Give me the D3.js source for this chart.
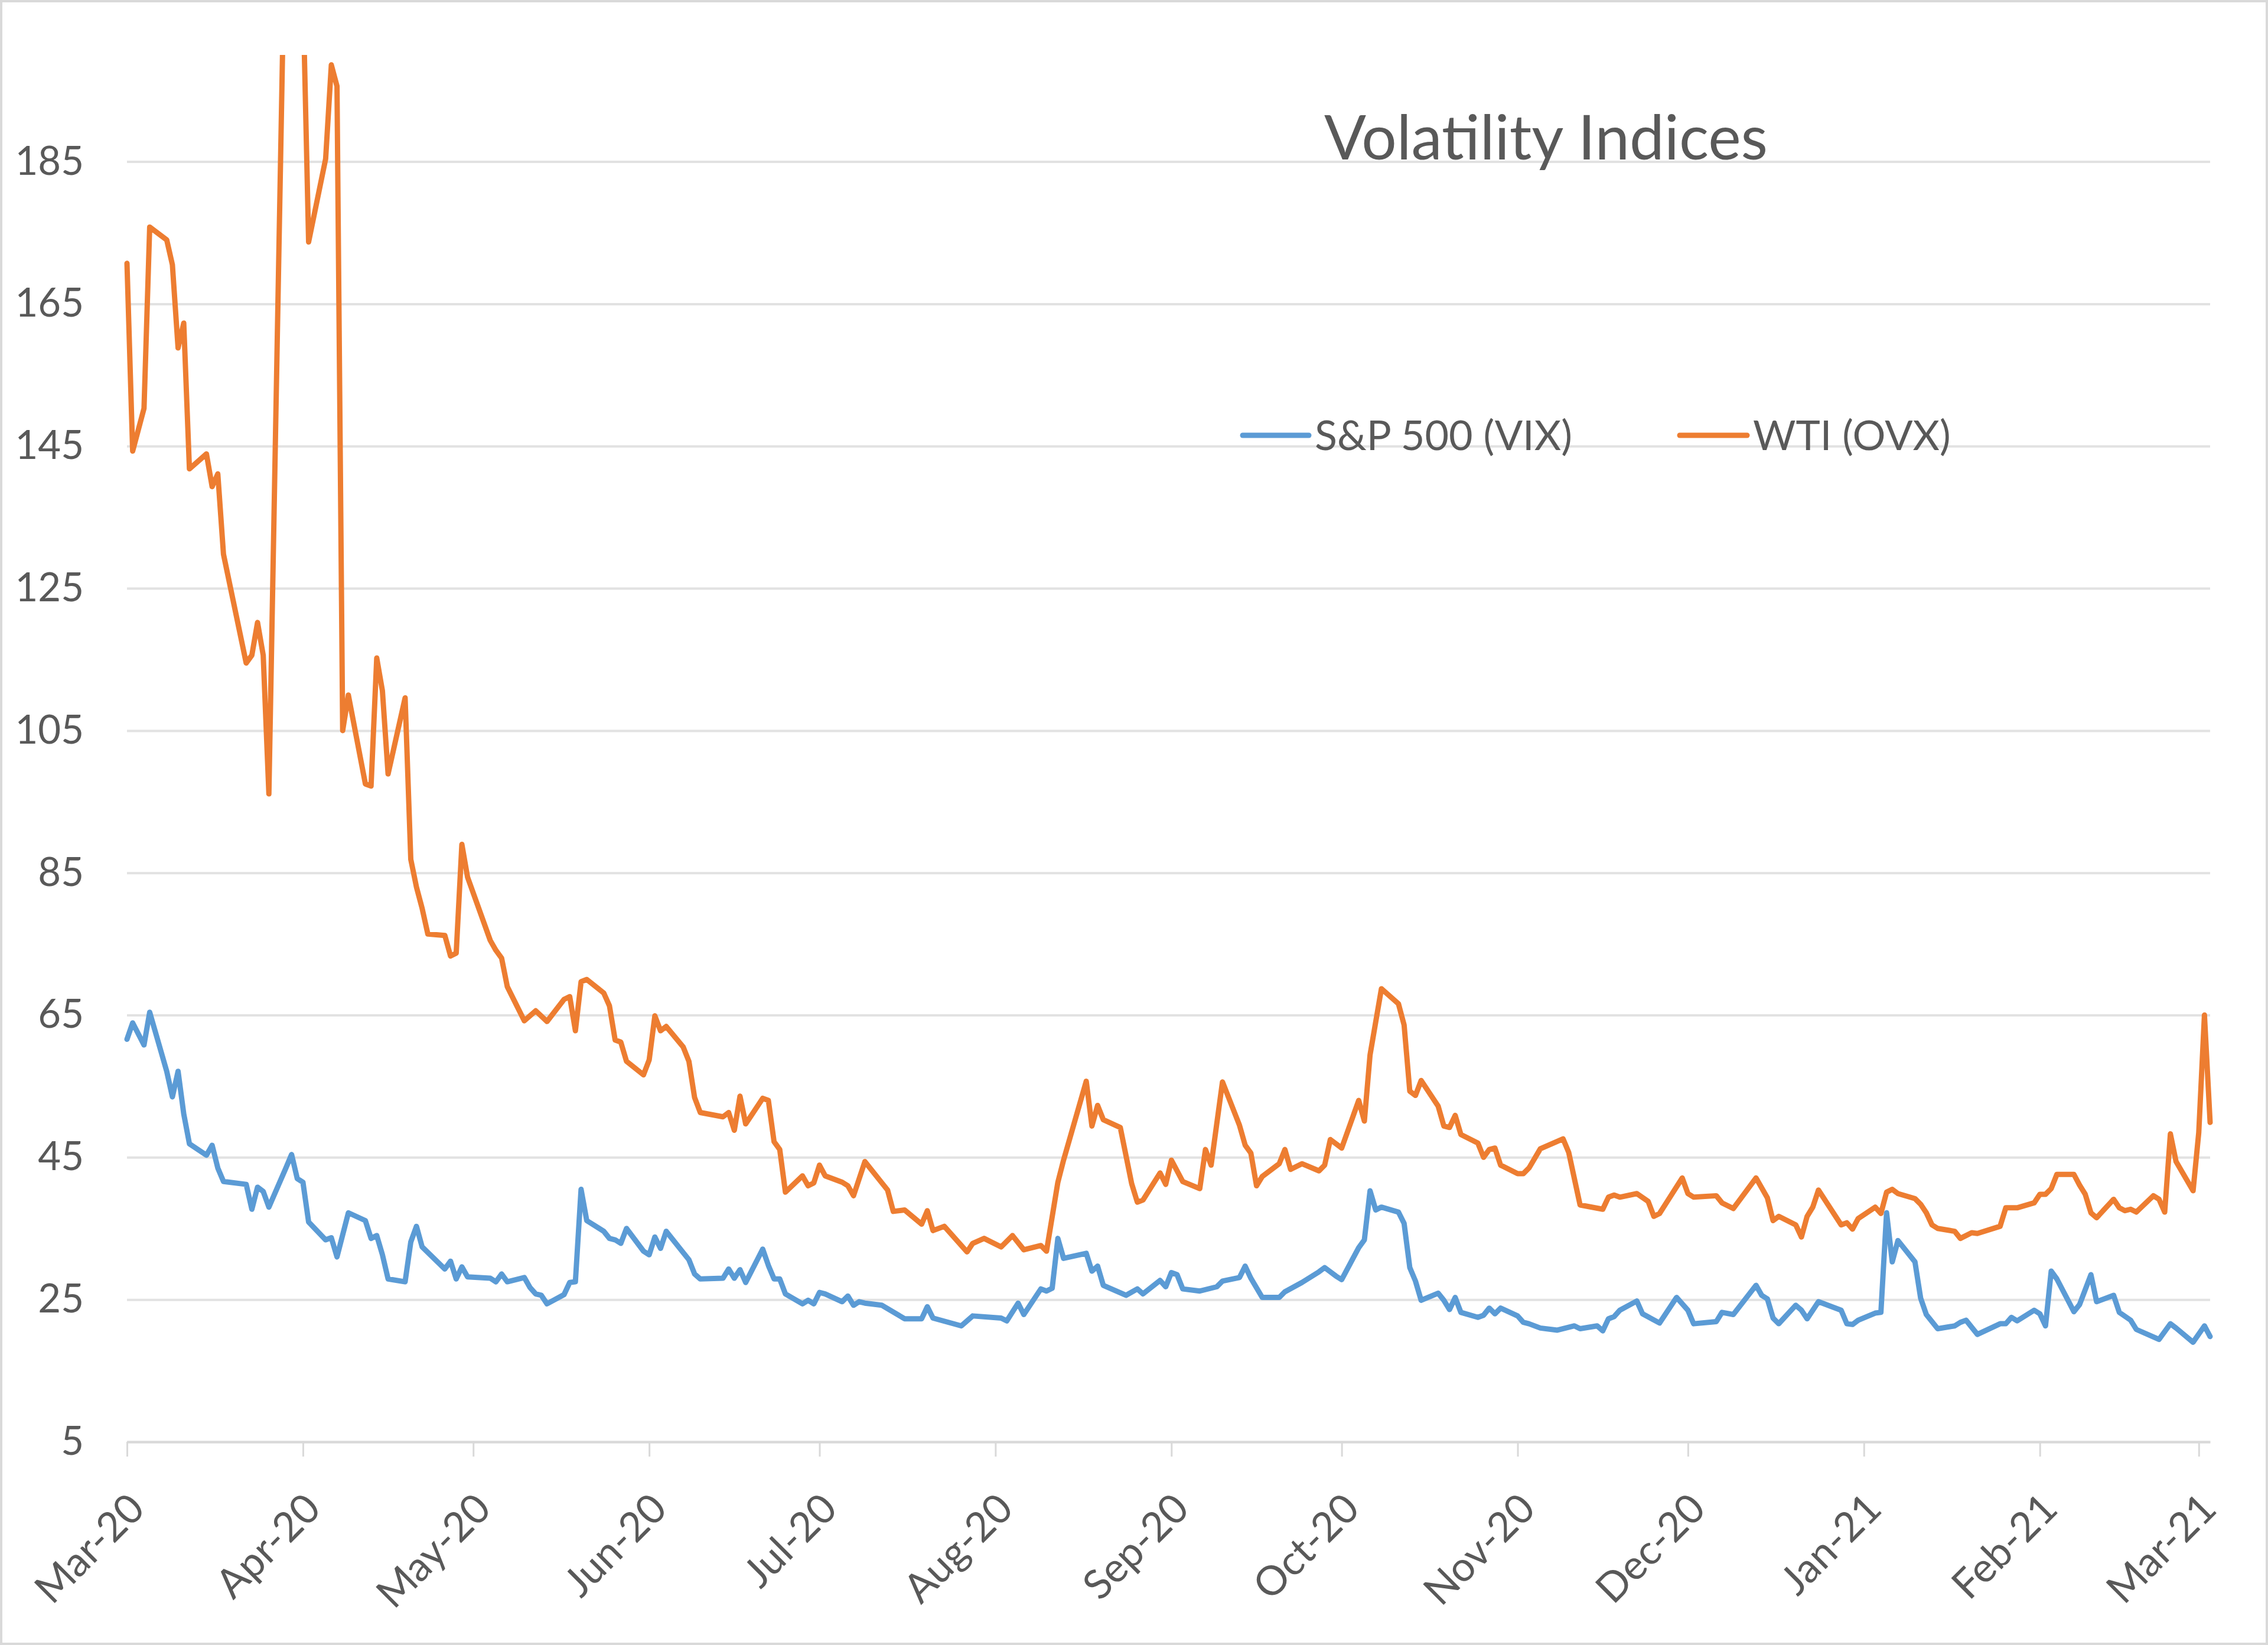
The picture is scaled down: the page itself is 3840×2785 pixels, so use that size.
<!DOCTYPE html>
<html><head><meta charset="utf-8">
<script src="https://cdn.jsdelivr.net/npm/d3@7"></script>
<style>html,body{margin:0;padding:0;background:#fff;} svg{display:block;}</style>
</head><body>
<svg id="chart" width="3840" height="2785"></svg>
<script>
// ---- DATA ----
const vixDates = ["2020-03-01","2020-03-02","2020-03-04","2020-03-05","2020-03-08","2020-03-09","2020-03-10","2020-03-11","2020-03-12","2020-03-15","2020-03-16","2020-03-17","2020-03-18","2020-03-22","2020-03-23","2020-03-24","2020-03-25","2020-03-26","2020-03-29","2020-03-30","2020-03-31","2020-04-01","2020-04-02","2020-04-05","2020-04-06","2020-04-07","2020-04-09","2020-04-12","2020-04-13","2020-04-14","2020-04-15","2020-04-16","2020-04-19","2020-04-20","2020-04-21","2020-04-22","2020-04-26","2020-04-27","2020-04-28","2020-04-29","2020-04-30","2020-05-04","2020-05-05","2020-05-06","2020-05-07","2020-05-10","2020-05-11","2020-05-12","2020-05-13","2020-05-14","2020-05-17","2020-05-18","2020-05-19","2020-05-20","2020-05-21","2020-05-24","2020-05-25","2020-05-26","2020-05-27","2020-05-28","2020-05-31","2020-06-01","2020-06-02","2020-06-03","2020-06-04","2020-06-07","2020-06-08","2020-06-09","2020-06-10","2020-06-14","2020-06-15","2020-06-16","2020-06-17","2020-06-18","2020-06-21","2020-06-22","2020-06-23","2020-06-24","2020-06-25","2020-06-28","2020-06-29","2020-06-30","2020-07-01","2020-07-02","2020-07-05","2020-07-06","2020-07-07","2020-07-08","2020-07-09","2020-07-12","2020-07-16","2020-07-19","2020-07-20","2020-07-21","2020-07-26","2020-07-28","2020-08-02","2020-08-03","2020-08-05","2020-08-06","2020-08-09","2020-08-10","2020-08-11","2020-08-12","2020-08-13","2020-08-17","2020-08-18","2020-08-19","2020-08-20","2020-08-24","2020-08-26","2020-08-27","2020-08-30","2020-08-31","2020-09-01","2020-09-02","2020-09-03","2020-09-06","2020-09-09","2020-09-10","2020-09-13","2020-09-14","2020-09-15","2020-09-17","2020-09-20","2020-09-21","2020-09-24","2020-09-27","2020-09-28","2020-09-30","2020-10-01","2020-10-04","2020-10-05","2020-10-06","2020-10-07","2020-10-08","2020-10-11","2020-10-12","2020-10-13","2020-10-14","2020-10-15","2020-10-18","2020-10-19","2020-10-20","2020-10-21","2020-10-22","2020-10-25","2020-10-26","2020-10-27","2020-10-28","2020-10-29","2020-11-01","2020-11-02","2020-11-03","2020-11-05","2020-11-08","2020-11-11","2020-11-12","2020-11-15","2020-11-16","2020-11-17","2020-11-18","2020-11-19","2020-11-22","2020-11-23","2020-11-26","2020-11-29","2020-12-01","2020-12-02","2020-12-06","2020-12-07","2020-12-09","2020-12-13","2020-12-14","2020-12-15","2020-12-16","2020-12-17","2020-12-20","2020-12-21","2020-12-22","2020-12-24","2020-12-28","2020-12-29","2020-12-30","2020-12-31","2021-01-03","2021-01-04","2021-01-05","2021-01-06","2021-01-07","2021-01-10","2021-01-11","2021-01-12","2021-01-14","2021-01-17","2021-01-18","2021-01-19","2021-01-21","2021-01-25","2021-01-26","2021-01-27","2021-01-28","2021-01-31","2021-02-01","2021-02-02","2021-02-03","2021-02-04","2021-02-07","2021-02-08","2021-02-10","2021-02-11","2021-02-14","2021-02-15","2021-02-17","2021-02-18","2021-02-22","2021-02-24","2021-02-25","2021-02-28","2021-03-02","2021-03-03"];
const vixValues = [61.6,63.9,60.8,65.4,57.1,53.5,57.1,51.1,46.9,45.3,46.7,43.5,41.6,41.2,37.7,40.8,40.2,38.0,43.5,45.4,42.0,41.5,35.9,33.4,33.7,31.0,37.2,36.1,33.6,34.0,31.3,27.9,27.5,33.1,35.3,32.4,29.3,30.4,27.9,29.6,28.2,28.0,27.5,28.6,27.5,28.1,26.7,25.8,25.6,24.4,25.7,27.4,27.5,40.5,36.1,34.6,33.6,33.4,32.9,35.0,31.8,31.3,33.8,32.2,34.6,31.6,30.6,28.6,27.9,28.0,29.3,28.0,29.2,27.4,32.1,29.8,27.9,27.9,25.8,24.4,24.9,24.4,26.0,25.8,24.7,25.5,24.2,24.7,24.5,24.2,22.3,22.3,24.0,22.4,21.3,22.7,22.4,22.0,24.5,22.9,26.5,26.2,26.6,33.6,30.8,31.5,29.0,29.7,27.0,25.6,26.5,25.8,27.7,26.8,28.8,28.5,26.5,26.2,26.8,27.6,28.1,29.7,28.0,25.3,25.3,26.1,27.4,28.9,29.5,28.3,27.8,32.3,33.4,40.3,37.6,38.0,37.3,35.7,29.5,27.6,24.9,25.9,24.9,23.6,25.3,23.2,22.5,22.8,23.8,23.0,23.8,22.7,21.8,21.6,21.0,20.7,21.3,20.9,21.3,20.6,22.3,22.6,23.5,24.8,23.0,21.7,25.3,23.5,21.6,21.9,23.2,22.9,27.0,25.6,25.1,22.4,21.6,24.2,23.5,22.3,24.7,23.5,21.6,21.5,22.1,23.1,23.2,37.2,30.3,33.3,30.3,25.2,22.9,20.9,21.3,21.8,22.1,20.1,21.6,21.6,22.5,22.0,23.5,23.0,21.3,29.0,27.9,23.3,24.3,28.5,24.7,25.6,23.2,22.1,20.8,19.4,21.6,21.0,19.0,21.3,19.8];

const ovxDates = ["2020-03-01","2020-03-02","2020-03-04","2020-03-05","2020-03-08","2020-03-09","2020-03-10","2020-03-11","2020-03-12","2020-03-15","2020-03-16","2020-03-17","2020-03-18","2020-03-22","2020-03-23","2020-03-24","2020-03-25","2020-03-26","2020-03-29","2020-03-30","2020-03-31","2020-04-01","2020-04-02","2020-04-05","2020-04-06","2020-04-07","2020-04-08","2020-04-09","2020-04-12","2020-04-13","2020-04-14","2020-04-15","2020-04-16","2020-04-19","2020-04-20","2020-04-21","2020-04-22","2020-04-23","2020-04-26","2020-04-27","2020-04-28","2020-04-29","2020-04-30","2020-05-04","2020-05-05","2020-05-06","2020-05-07","2020-05-10","2020-05-12","2020-05-14","2020-05-17","2020-05-18","2020-05-19","2020-05-20","2020-05-21","2020-05-24","2020-05-25","2020-05-26","2020-05-27","2020-05-28","2020-05-31","2020-06-01","2020-06-02","2020-06-03","2020-06-04","2020-06-07","2020-06-08","2020-06-09","2020-06-10","2020-06-14","2020-06-15","2020-06-16","2020-06-17","2020-06-18","2020-06-21","2020-06-22","2020-06-23","2020-06-24","2020-06-25","2020-06-28","2020-06-29","2020-06-30","2020-07-01","2020-07-02","2020-07-05","2020-07-06","2020-07-07","2020-07-09","2020-07-12","2020-07-13","2020-07-14","2020-07-16","2020-07-19","2020-07-20","2020-07-21","2020-07-23","2020-07-27","2020-07-28","2020-07-30","2020-08-02","2020-08-04","2020-08-06","2020-08-09","2020-08-10","2020-08-12","2020-08-13","2020-08-17","2020-08-18","2020-08-19","2020-08-20","2020-08-23","2020-08-25","2020-08-26","2020-08-27","2020-08-30","2020-08-31","2020-09-01","2020-09-03","2020-09-06","2020-09-07","2020-09-08","2020-09-10","2020-09-13","2020-09-14","2020-09-15","2020-09-16","2020-09-17","2020-09-20","2020-09-21","2020-09-22","2020-09-24","2020-09-27","2020-09-28","2020-09-29","2020-10-01","2020-10-04","2020-10-05","2020-10-06","2020-10-08","2020-10-11","2020-10-12","2020-10-13","2020-10-14","2020-10-15","2020-10-18","2020-10-19","2020-10-20","2020-10-21","2020-10-22","2020-10-25","2020-10-26","2020-10-27","2020-10-28","2020-10-29","2020-11-01","2020-11-02","2020-11-03","2020-11-05","2020-11-09","2020-11-10","2020-11-12","2020-11-16","2020-11-17","2020-11-18","2020-11-19","2020-11-22","2020-11-24","2020-11-25","2020-11-26","2020-11-30","2020-12-01","2020-12-02","2020-12-06","2020-12-07","2020-12-09","2020-12-13","2020-12-15","2020-12-16","2020-12-17","2020-12-20","2020-12-21","2020-12-22","2020-12-23","2020-12-24","2020-12-28","2020-12-29","2020-12-30","2020-12-31","2021-01-03","2021-01-04","2021-01-05","2021-01-06","2021-01-07","2021-01-10","2021-01-11","2021-01-12","2021-01-13","2021-01-14","2021-01-17","2021-01-18","2021-01-20","2021-01-21","2021-01-25","2021-01-26","2021-01-28","2021-01-31","2021-02-01","2021-02-02","2021-02-03","2021-02-04","2021-02-07","2021-02-08","2021-02-09","2021-02-10","2021-02-11","2021-02-14","2021-02-15","2021-02-16","2021-02-17","2021-02-18","2021-02-21","2021-02-22","2021-02-23","2021-02-24","2021-02-25","2021-02-28","2021-03-01","2021-03-02","2021-03-03"];
const ovxValues = [170.7,144.3,150.3,175.8,174.0,170.5,158.8,162.3,141.8,143.9,139.3,141.1,129.8,114.5,115.6,120.2,115.6,96.1,226,325,260,209,173.7,185.4,198.6,195.6,105.0,110.0,97.5,97.2,115.2,110.6,98.9,109.6,86.9,83.0,80.0,76.4,76.2,73.3,73.7,89.0,84.4,75.5,74.1,73.0,69.0,64.2,65.6,64.1,67.2,67.6,62.8,69.7,70.0,68.1,66.3,61.5,61.2,58.5,56.6,58.7,64.9,62.8,63.4,60.5,58.5,53.4,51.3,50.7,51.3,48.8,53.6,49.7,53.3,53.0,47.2,46.1,40.1,42.4,41.0,41.4,43.9,42.4,41.5,41.0,39.6,44.4,41.4,40.4,37.4,37.6,35.6,37.5,34.7,35.3,31.7,32.9,33.6,32.4,34.0,32.0,32.6,31.8,41.5,44.6,55.7,49.4,52.3,50.3,49.2,41.3,38.7,39.0,42.8,41.2,44.6,41.6,40.6,46.1,43.9,55.6,49.5,46.7,45.6,41.0,42.3,44.1,46.1,43.3,44.1,43.1,43.9,47.5,46.3,53.0,50.1,59.4,68.7,66.6,63.6,54.3,53.7,55.8,52.2,49.4,49.2,50.9,48.2,47.0,45.0,46.1,46.3,43.9,42.7,42.7,43.5,46.2,47.6,45.7,38.3,37.7,39.4,39.7,39.4,39.9,38.8,36.7,37.1,42.1,39.9,39.4,39.6,38.6,37.8,42.1,39.3,36.1,36.7,35.5,33.8,36.7,38.0,40.4,35.5,35.8,34.9,36.4,38.0,37.1,40.1,40.5,39.9,39.2,38.4,37.2,35.5,35.0,34.6,33.6,34.4,34.3,35.3,37.9,37.9,38.6,39.8,39.8,40.6,42.6,42.6,41.1,39.8,37.2,36.5,39.1,37.9,37.5,37.7,37.3,39.6,39.1,37.3,48.3,44.4,40.3,48.5,65.0,49.9];

const seriesNames = ["S&P 500 (VIX)", "WTI (OVX)"];
const yTicks = [5, 25, 45, 65, 85, 105, 125, 145, 165, 185];
const tickDates = ["2020-03-01","2020-04-01","2020-05-01","2020-06-01","2020-07-01","2020-08-01","2020-09-01","2020-10-01","2020-11-01","2020-12-01","2021-01-01","2021-02-01","2021-03-01"];
const tickLabels = ["Mar-20","Apr-20","May-20","Jun-20","Jul-20","Aug-20","Sep-20","Oct-20","Nov-20","Dec-20","Jan-21","Feb-21","Mar-21"];
const xDomain = ["2020-03-01", "2021-03-03"];
const yDomain = [5, 200];
const titleText = "Volatility Indices";

// ---- CHART ----
const W = 3840, H = 2785;
const plot = {left: 215, right: 3742, top: 93, bottom: 2441};
const colors = ["#5B9BD5", "#ED7D31"];
const textColor = "#595959";
const gridColor = "#e2e2e2";
const font = "Lato, 'Open Sans', sans-serif";
const lineWidth = 9;

const parse = d3.utcParse("%Y-%m-%d");
const svg = d3.select("#chart");

svg.append("rect").attr("x", 2).attr("y", 2).attr("width", W - 4).attr("height", H - 4)
  .attr("fill", "#ffffff").attr("stroke", "#d9d9d9").attr("stroke-width", 4);

const x = d3.scaleUtc().domain(xDomain.map(parse)).range([plot.left, plot.right]);
const y = d3.scaleLinear().domain(yDomain).range([plot.bottom, plot.top]);

// y axis with gridlines
const yAxis = d3.axisLeft(y).tickValues(yTicks).tickSize(-(plot.right - plot.left)).tickPadding(73);
const gy = svg.append("g").attr("transform", `translate(${plot.left},0)`).call(yAxis);
gy.select(".domain").remove();
gy.selectAll(".tick line").attr("stroke", gridColor).attr("stroke-width", 4);
gy.selectAll(".tick text").attr("fill", textColor).attr("font-family", font).attr("font-size", 67);

// x axis
const xAxis = d3.axisBottom(x).tickValues(tickDates.map(parse))
  .tickFormat((d, i) => tickLabels[i]).tickSize(25).tickSizeOuter(0);
const gx = svg.append("g").attr("transform", `translate(0,${plot.bottom})`).call(xAxis);
gx.select(".domain").attr("stroke", "#d9d9d9").attr("stroke-width", 4);
gx.selectAll(".tick line").attr("stroke", "#d9d9d9").attr("stroke-width", 3);
gx.selectAll(".tick text")
  .attr("fill", textColor).attr("font-family", font).attr("font-size", 69)
  .attr("text-anchor", "end").attr("x", 0).attr("y", 0).attr("dy", "0.35em")
  .attr("transform", "translate(16,100) rotate(-45)");

// clip
svg.append("clipPath").attr("id", "plotclip").append("rect")
  .attr("x", plot.left - 10).attr("y", plot.top).attr("width", plot.right - plot.left + 20).attr("height", plot.bottom - plot.top);

const series = [
  vixDates.map((d, i) => ({date: parse(d), v: vixValues[i]})),
  ovxDates.map((d, i) => ({date: parse(d), v: ovxValues[i]}))
];
const line = d3.line().x(d => x(d.date)).y(d => y(d.v));
const gl = svg.append("g").attr("clip-path", "url(#plotclip)");
series.forEach((s, i) => {
  gl.append("path").datum(s).attr("d", line).attr("fill", "none")
    .attr("stroke", colors[i]).attr("stroke-width", lineWidth)
    .attr("stroke-linejoin", "round").attr("stroke-linecap", "round");
});

// title
svg.append("text").attr("x", 2242).attr("y", 270).attr("fill", textColor)
  .attr("font-family", font).attr("font-size", 105).text(titleText);

// legend
const legendPos = [{x1: 2104, x2: 2216, tx: 2226}, {x1: 2844, x2: 2958, tx: 2968}];
const legendY = 737;
seriesNames.forEach((name, i) => {
  const p = legendPos[i];
  svg.append("line").attr("x1", p.x1).attr("x2", p.x2).attr("y1", legendY).attr("y2", legendY)
    .attr("stroke", colors[i]).attr("stroke-width", lineWidth).attr("stroke-linecap", "round");
  svg.append("text").attr("x", p.tx).attr("y", legendY).attr("dy", "0.35em")
    .attr("fill", textColor).attr("font-family", font).attr("font-size", 70).text(name);
});
</script>
</body></html>
